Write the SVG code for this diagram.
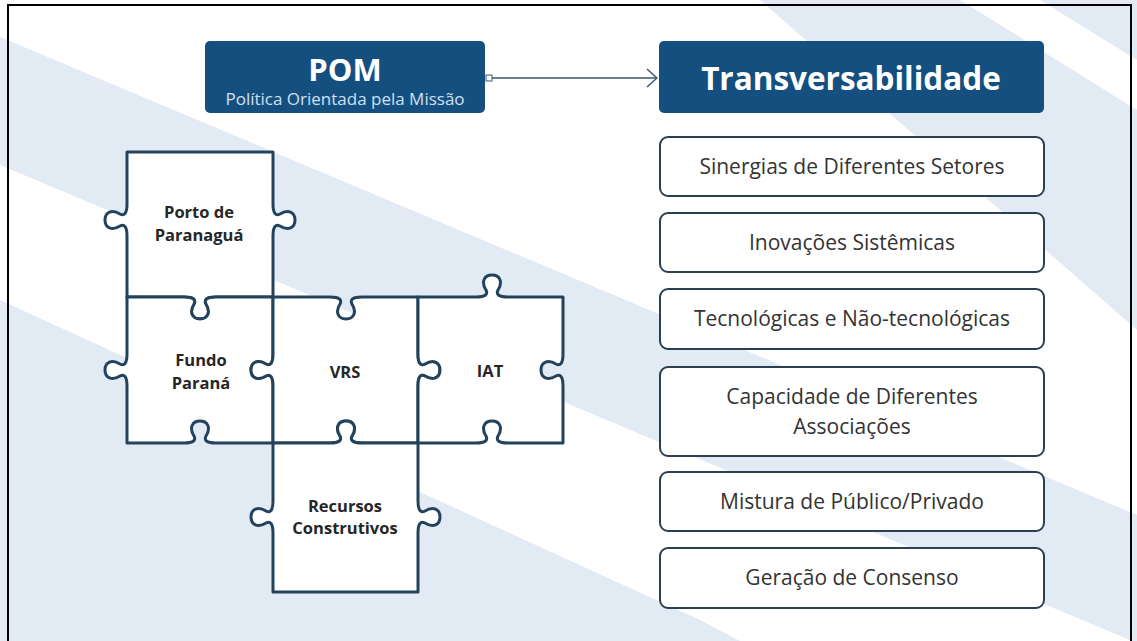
<svg xmlns="http://www.w3.org/2000/svg" width="1137" height="641" viewBox="0 0 1137 641">
<defs>
<style>
.band{fill:#e2eaf4;}
.hdr{fill:#154f80;}
.item{fill:#ffffff;stroke:#2b3f52;stroke-width:2;}
.itxt{font-family:"Open Sans",sans-serif;font-size:21px;fill:#333333;text-anchor:middle;}
.piece{fill:#ffffff;stroke:#23425c;stroke-width:3;stroke-linejoin:round;}
.ptxt{font-family:"Open Sans",sans-serif;font-size:16.5px;font-weight:bold;fill:#262626;text-anchor:middle;}
.conn{stroke:#3b5670;stroke-width:1.5;fill:none;}
</style>
<marker id="chev" viewBox="0 0 12 20" refX="11" refY="10" markerWidth="12" markerHeight="20" markerUnits="userSpaceOnUse" orient="auto">
<path d="M1,1 L11,10 L1,19" fill="none" stroke="#3b5670" stroke-width="1.5"/>
</marker>
<marker id="sq" viewBox="0 0 8 8" refX="1" refY="4" markerWidth="8" markerHeight="8" markerUnits="userSpaceOnUse" orient="auto">
<rect x="1" y="1" width="6" height="6" fill="#ffffff" stroke="#3b5670" stroke-width="1"/>
</marker>
</defs>
<rect x="0" y="0" width="1137" height="641" fill="#ffffff"/>
<g id="background">
<polygon class="band" points="0,37 1137,515 1137,643 0,165"/>
<polygon class="band" points="0,300 700,620 740,641 0,641 0,640 0,420"/>
<polygon class="band" points="0,565 180,641 0,641"/>
<polygon class="band" points="760,0 960,0 1137,110 1137,330"/>
<polygon class="band" points="1040,0 1137,0 1137,60"/>
</g>
<rect x="8" y="5" width="1123" height="650" fill="none" stroke="#000000" stroke-width="2"/>

<g id="connectors">
<line class="conn" x1="486" y1="78" x2="657" y2="78" marker-start="url(#sq)" marker-end="url(#chev)"/>
</g>

<g id="pom">
<rect class="hdr" x="205" y="41" width="280" height="72" rx="5"/>
<text x="345" y="81" font-family="'Open Sans',sans-serif" font-size="31" font-weight="bold" fill="#ffffff" text-anchor="middle">POM</text>
<text x="345" y="105" font-family="'Open Sans',sans-serif" font-size="17" fill="#cfe0f0" text-anchor="middle">Política Orientada pela Missão</text>
</g>

<g id="transversabilidade">
<rect class="hdr" x="659" y="41" width="385" height="72" rx="5"/>
<text x="851" y="90" font-family="'Open Sans',sans-serif" font-size="31.5" font-weight="bold" fill="#ffffff" text-anchor="middle">Transversabilidade</text>
</g>

<g id="item1"><rect class="item" x="660" y="137" width="384" height="59" rx="8"/><text class="itxt" x="852" y="174">Sinergias de Diferentes Setores</text></g>
<g id="item2"><rect class="item" x="660" y="213" width="384" height="59" rx="8"/><text class="itxt" x="852" y="250">Inovações Sistêmicas</text></g>
<g id="item3"><rect class="item" x="660" y="289" width="384" height="60" rx="8"/><text class="itxt" x="852" y="326">Tecnológicas e Não-tecnológicas</text></g>
<g id="item4"><rect class="item" x="660" y="367" width="384" height="89" rx="8"/><text class="itxt" x="852" y="404">Capacidade de Diferentes</text><text class="itxt" x="852" y="434">Associações</text></g>
<g id="item5"><rect class="item" x="660" y="472" width="384" height="59" rx="8"/><text class="itxt" x="852" y="509">Mistura de Público/Privado</text></g>
<g id="item6"><rect class="item" x="660" y="548" width="384" height="60" rx="8"/><text class="itxt" x="852" y="585">Geração de Consenso</text></g>

<g id="porto">
<path class="piece" d="M127,152 L273,152 L273,204 C273,214 276,216 280,214 C288,209 295,212 295,220 C295,228 288,231 280,226 C276,224 273,226 273,236 L273,297 L216,297 C206,297 204,300 206,304 C211,312 208,319 200,319 C192,319 189,312 194,304 C196,300 194,297 184,297 L127,297 L127,236 C127,226 124,224 120,226 C112,231 105,228 105,220 C105,212 112,209 120,214 C124,216 127,214 127,204 Z"/>
<text class="ptxt" x="199" y="218">Porto de</text>
<text class="ptxt" x="199" y="241">Paranaguá</text>
</g>

<g id="fundo">
<path class="piece" d="M127,297 L184,297 C194,297 196,300 194,304 C189,312 192,319 200,319 C208,319 211,312 206,304 C204,300 206,297 216,297 L273,297 L273,354 C273,364 270,366 266,364 C258,359 251,362 251,370 C251,378 258,381 266,376 C270,374 273,376 273,386 L273,443 L216,443 C206,443 204,440 206,436 C211,428 208,421 200,421 C192,421 189,428 194,436 C196,440 194,443 184,443 L127,443 L127,386 C127,376 124,374 120,376 C112,381 105,378 105,370 C105,362 112,359 120,364 C124,366 127,364 127,354 Z"/>
<text class="ptxt" x="201" y="366">Fundo</text>
<text class="ptxt" x="201" y="389">Paraná</text>
</g>

<g id="vrs">
<path class="piece" d="M273,297 L330,297 C340,297 342,300 340,304 C335,312 338,319 346,319 C354,319 357,312 352,304 C350,300 352,297 362,297 L418,297 L418,354 C418,364 421,366 425,364 C433,359 440,362 440,370 C440,378 433,381 425,376 C421,374 418,376 418,386 L418,443 L362,443 C352,443 350,440 352,436 C357,428 354,421 346,421 C338,421 335,428 340,436 C342,440 340,443 330,443 L273,443 L273,386 C273,376 270,374 266,376 C258,381 251,378 251,370 C251,362 258,359 266,364 C270,366 273,364 273,354 Z"/>
<text class="ptxt" x="345" y="378">VRS</text>
</g>

<g id="iat">
<path class="piece" d="M418,297 L476,297 C486,297 488,294 486,290 C481,282 484,275 492,275 C500,275 503,282 498,290 C496,294 498,297 508,297 L563,297 L563,354 C563,364 560,366 556,364 C548,359 541,362 541,370 C541,378 548,381 556,376 C560,374 563,376 563,386 L563,443 L508,443 C498,443 496,440 498,436 C503,428 500,421 492,421 C484,421 481,428 486,436 C488,440 486,443 476,443 L418,443 L418,386 C418,376 421,374 425,376 C433,381 440,378 440,370 C440,362 433,359 425,364 C421,366 418,364 418,354 Z"/>
<text class="ptxt" x="490" y="377">IAT</text>
</g>

<g id="recursos">
<path class="piece" d="M273,443 L330,443 C340,443 342,440 340,436 C335,428 338,421 346,421 C354,421 357,428 352,436 C350,440 352,443 362,443 L418,443 L418,501 C418,511 421,513 425,511 C433,506 440,509 440,517 C440,525 433,528 425,523 C421,521 418,523 418,533 L418,592 L273,592 L273,533 C273,523 270,521 266,523 C258,528 251,525 251,517 C251,509 258,506 266,511 C270,513 273,511 273,501 Z"/>
<text class="ptxt" x="345" y="512">Recursos</text>
<text class="ptxt" x="345" y="534">Construtivos</text>
</g>
</svg>
